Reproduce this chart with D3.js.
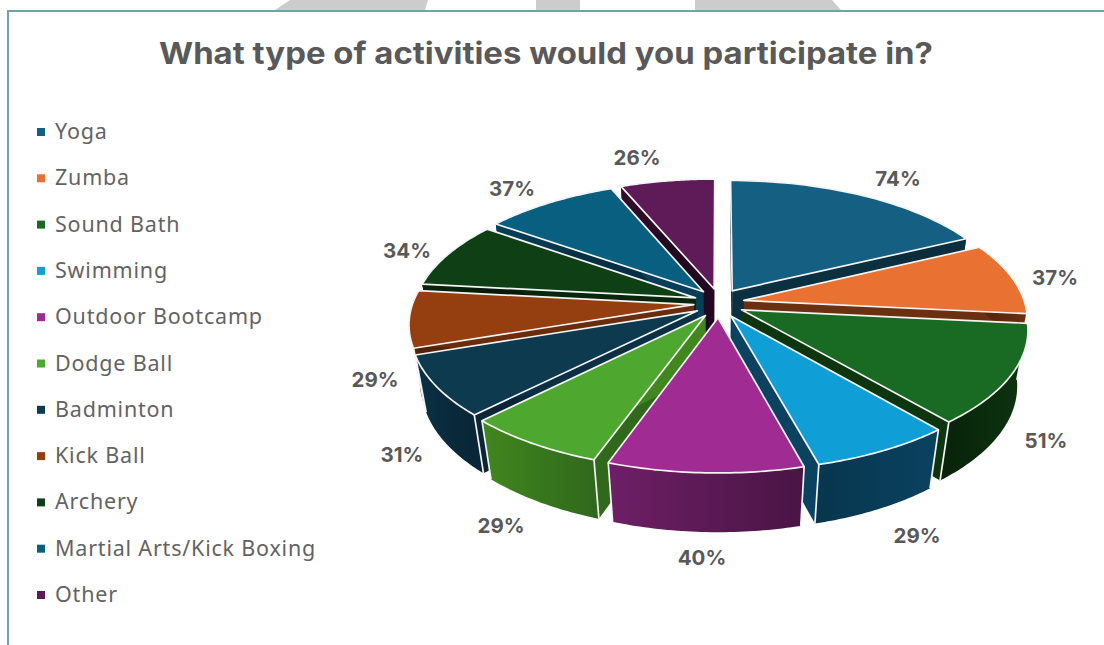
<!DOCTYPE html>
<html>
<head>
<meta charset="utf-8">
<script src="https://cdn.jsdelivr.net/npm/d3@7"></script>
<style>
  html, body { margin: 0; padding: 0; background: #fff; }
  svg { display: block; }
</style>
</head>
<body>
<svg id="chart" width="1104" height="645"></svg>
<script>
const chartTitle = "What type of activities would you participate in?";
const categories = ["Yoga", "Zumba", "Sound Bath", "Swimming", "Outdoor Bootcamp", "Dodge Ball",
  "Badminton", "Kick Ball", "Archery", "Martial Arts/Kick Boxing", "Other"];
const values = [74, 37, 51, 29, 40, 29, 31, 29, 34, 37, 26];
const topColors = ["#156082", "#E97132", "#196B24", "#0F9ED5", "#A02B93", "#4EA72E",
  "#0D3A4E", "#953F10", "#0F4015", "#095F80", "#5F1A58"];
const wallLight = ["#0b3040", "#6a3010", "#0d3510", "#0a4260", "#6e1f66", "#41861f",
  "#0b3044", "#6a2c0a", "#08260c", "#073f58", "#300d2c"];
const wallDark = ["#07222e", "#50240c", "#08240a", "#07364e", "#491444", "#30691c",
  "#082636", "#50220a", "#051a08", "#052f42", "#220820"];
const labelPos = [
  [898, 179], [1055, 278], [1046, 441], [917, 536], [702, 558], [501, 526],
  [402, 455], [375, 380], [407, 251], [512, 189], [637, 158]
];

const svg = d3.select("#chart");
const defs = svg.append("defs");

// Page behind the chart panel
svg.append("rect").attr("width", 1104).attr("height", 645).attr("fill", "#fff");
svg.append("path").attr("fill", "#cccccc").attr("d", "M290,0H428L425,10H275Z");
svg.append("path").attr("fill", "#cccccc").attr("d", "M536,0H580V10H536Z");
svg.append("path").attr("fill", "#cccccc").attr("d", "M695,0H832L841,10H695Z");
svg.append("path").attr("fill", "none").attr("stroke", "#6fa3a5").attr("stroke-width", 2)
  .attr("d", "M8,645V11H1104");

svg.append("text").attr("x", 546).attr("y", 64)
  .attr("text-anchor", "middle")
  .attr("font-family", "Inter, 'Liberation Sans', sans-serif")
  .attr("font-weight", 700).attr("font-size", 30)
  .attr("fill", "#595959")
  .attr("textLength", 774).attr("lengthAdjust", "spacingAndGlyphs")
  .text(chartTitle);

// Legend
const legendY = d3.scalePoint().domain(categories).range([132, 595]);
const legend = svg.append("g").selectAll("g").data(categories).join("g")
  .attr("transform", d => `translate(0,${legendY(d)})`);
legend.append("rect").attr("x", 37).attr("y", -4).attr("width", 8).attr("height", 8)
  .attr("fill", (d, i) => topColors[i]);
legend.append("text").attr("x", 55).attr("y", 7)
  .attr("font-family", "'Noto Sans', sans-serif")
  .attr("font-size", 21.5).attr("letter-spacing", 0.8)
  .attr("fill", "#636363").text(d => d);

// Pie angles come from d3.pie, the 3D look from a small perspective projection.
const pie = d3.pie().sort(null).value(d => d)
  .startAngle(0).endAngle(2 * Math.PI);
const arcs = pie(values);

const cx = 719, cy = 303;
const radiusX = d3.scaleLinear().domain([0, 1]).range([0, 281]);
const radiusZ = d3.scaleLinear().domain([0, 1]).range([0, 129]);
const depth = 58, explode = 0.09, persp = 0.14, drop = 0.035;

function project(a, r, h, off) {
  const X = r * Math.sin(a) + off.x;
  const Z = -r * Math.cos(a) + off.z;
  const p = 1 / (1 - persp * Z + drop * h);
  return [cx + radiusX(X) * p, cy + (radiusZ(Z) + depth * h) * p];
}

function pathOf(points) {
  return d3.line()(points) + "Z";
}

const slices = arcs.map((d, i) => {
  const mid = (d.startAngle + d.endAngle) / 2;
  const off = { x: explode * Math.sin(mid), z: -explode * 1.25 * Math.cos(mid) };
  const ang = d3.range(0, 41).map(k => d.startAngle + (d.endAngle - d.startAngle) * k / 40);
  return { d, i, mid, off, ang, order: -Math.cos(mid) };
}).sort((a, b) => a.order - b.order);

const pieG = svg.append("g");
slices.forEach(s => {
  const { i, off, ang } = s;
  const apexT = project(0, 0, 0, off), apexB = project(0, 0, 1, off);
  const rimT = ang.map(a => project(a, 1, 0, off));
  const rimB = ang.map(a => project(a, 1, 1, off));
  const first = rimT[0], last = rimT[rimT.length - 1];
  const firstB = rimB[0], lastB = rimB[rimB.length - 1];

  const g = pieG.append("g");
  // Radial cut faces
  g.append("path").attr("fill", wallDark[i]).attr("d", pathOf([apexT, first, firstB, apexB]));
  g.append("path").attr("fill", wallLight[i]).attr("d", pathOf([apexT, last, lastB, apexB]));

  // Curved outer wall, shaded across its width
  const grad = defs.append("linearGradient").attr("id", "wall" + i)
    .attr("gradientUnits", "userSpaceOnUse")
    .attr("x1", d3.min(rimT, p => p[0])).attr("x2", d3.max(rimT, p => p[0]))
    .attr("y1", 0).attr("y2", 0);
  grad.append("stop").attr("offset", 0).attr("stop-color", s.mid < Math.PI ? wallDark[i] : wallLight[i]);
  grad.append("stop").attr("offset", 1).attr("stop-color", s.mid < Math.PI ? wallLight[i] : wallDark[i]);
  g.append("path").attr("fill", `url(#wall${i})`)
    .attr("d", pathOf(rimT.concat(rimB.slice().reverse())));

  // Bright corner edges where the faces meet
  [[first, firstB], [last, lastB]].forEach(seg => {
    const frontish = seg[0][1] > cy;
    if (frontish) {
      g.append("path").attr("d", d3.line()(seg)).attr("stroke", "#f4f4f4")
        .attr("stroke-width", 1.7).attr("fill", "none");
    }
  });

  // Top face
  g.append("path").attr("fill", topColors[i])
    .attr("stroke", "#f4f4f4").attr("stroke-width", 1.7).attr("stroke-linejoin", "round")
    .attr("d", pathOf([apexT].concat(rimT)));
});

// Percentage labels
svg.append("g").selectAll("text").data(values).join("text")
  .attr("x", (d, i) => labelPos[i][0]).attr("y", (d, i) => labelPos[i][1] + 7)
  .attr("text-anchor", "middle")
  .attr("font-family", "Inter, 'Liberation Sans', sans-serif")
  .attr("font-weight", 700).attr("font-size", 20.5)
  .attr("fill", "#595959")
  .text(d => d + "%");
</script>
</body>
</html>
